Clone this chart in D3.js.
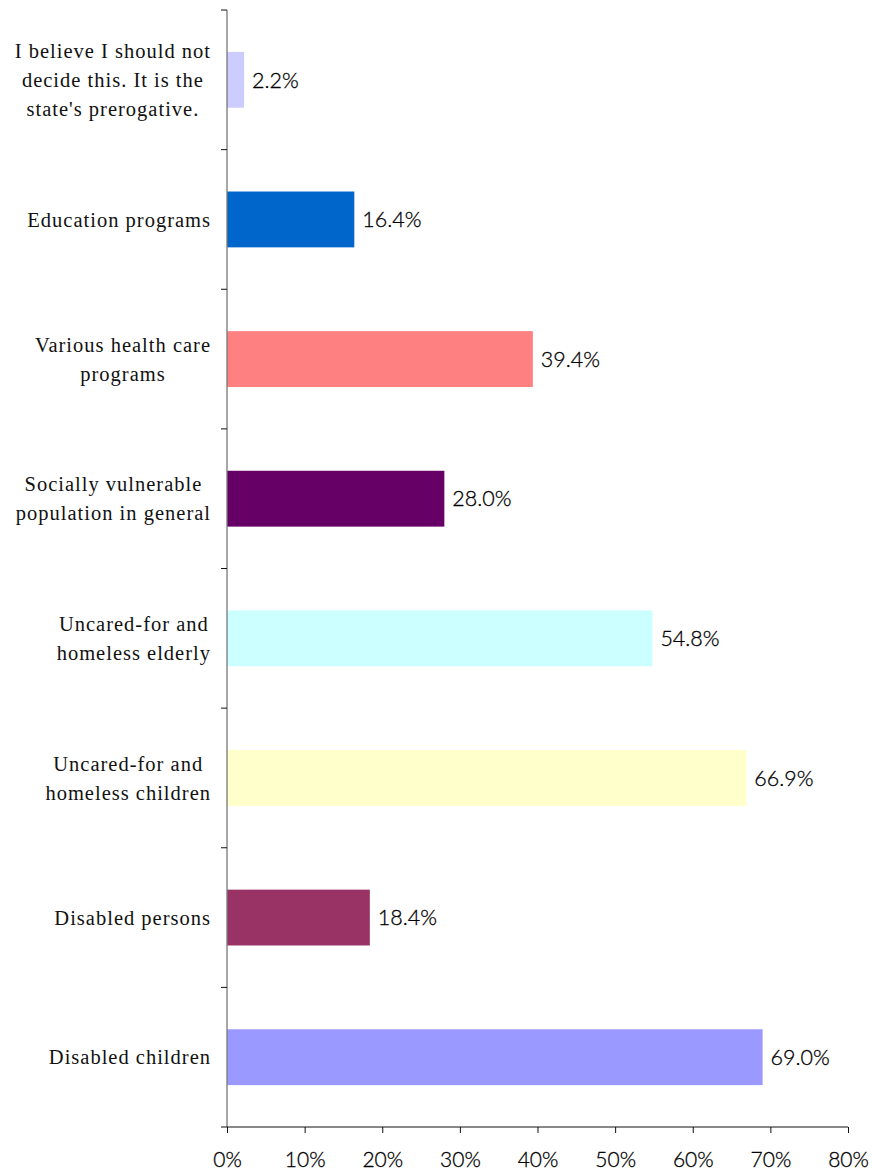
<!DOCTYPE html>
<html>
<head>
<meta charset="utf-8">
<script src="https://cdn.jsdelivr.net/npm/d3@7"></script>
<style>
  body { margin: 0; background: #fff; }
</style>
</head>
<body>
<svg id="chart" width="872" height="1171"></svg>
<script>
// data
const categories = [
    "I believe I should not|decide this. It is the|state's prerogative.",
    "Education programs",
    "Various health care|programs",
    "Socially vulnerable|population in general",
    "Uncared-for and|homeless elderly",
    "Uncared-for and|homeless children",
    "Disabled persons",
    "Disabled children"
];
const values = [2.2, 16.4, 39.4, 28.0, 54.8, 66.9, 18.4, 69.0];
const barColors = ["#ccccff", "#0066cc", "#ff8080", "#660066", "#ccffff", "#ffffcc", "#993366", "#9999ff"];
const xTicks = [0, 10, 20, 30, 40, 50, 60, 70, 80];

const margin = { top: 10, left: 227, right: 24, bottom: 44 };
const width = 872, height = 1171;

const svg = d3.select("#chart");

const x = d3.scaleLinear()
    .domain([0, 80])
    .range([margin.left, width - margin.right]);

const y = d3.scaleBand()
    .domain(categories)
    .range([margin.top, height - margin.bottom])
    .paddingInner(0.6)
    .paddingOuter(0.3);

// bars
svg.selectAll(".bar")
    .data(values)
    .enter()
    .append("rect")
    .attr("class", "bar")
    .attr("x", x(0))
    .attr("y", (d, i) => y(categories[i]))
    .attr("width", d => x(d) - x(0))
    .attr("height", y.bandwidth())
    .attr("fill", (d, i) => barColors[i]);

// value labels
svg.selectAll(".val")
    .data(values)
    .enter()
    .append("text")
    .attr("class", "val")
    .attr("x", d => x(d) + 8)
    .attr("y", (d, i) => y(categories[i]) + y.bandwidth() / 2)
    .attr("dy", "0.36em")
    .attr("fill", "#000")
    .attr("stroke", "#000")
    .attr("stroke-width", 0.3)
    .style("font-family", "'Lato', 'DejaVu Sans', sans-serif")
    .style("font-weight", 300)
    .style("font-size", "21.5px")
    .text(d => d.toFixed(1) + "%");

// y axis line + tick marks between categories
const yBottom = height - margin.bottom;
svg.append("line")
    .attr("x1", x(0)).attr("x2", x(0))
    .attr("y1", margin.top).attr("y2", yBottom)
    .attr("stroke", "#777").attr("stroke-width", 1.3);

const yTickPos = d3.range(categories.length).map(i => margin.top + i * (yBottom - margin.top) / categories.length);
svg.selectAll(".ytick")
    .data(yTickPos)
    .enter()
    .append("line")
    .attr("class", "ytick")
    .attr("x1", x(0) - 6).attr("x2", x(0))
    .attr("y1", d => d).attr("y2", d => d)
    .attr("stroke", "#111").attr("stroke-width", 1);

// category labels (right-aligned block, lines centered)
const lineH = 29;
categories.forEach((c, i) => {
    const lines = c.split("|");
    const cy = y(c) + y.bandwidth() / 2;
    const g = svg.append("g");
    const t = g.selectAll("text")
        .data(lines)
        .enter()
        .append("text")
        .attr("text-anchor", "middle")
        .attr("y", (d, j) => cy + (j - (lines.length - 1) / 2) * lineH)
        .attr("dy", "0.35em")
        .attr("fill", "#111")
        .style("font-family", "'Liberation Serif', 'Times New Roman', serif")
        .style("font-size", "20.5px")
        .style("letter-spacing", "1px")
        .text(d => d);
    const maxW = d3.max(t.nodes(), n => n.getComputedTextLength());
    t.attr("x", 211 - maxW / 2);
});

// x axis
const xAxis = d3.axisBottom(x)
    .tickValues(xTicks)
    .tickSize(6)
    .tickPadding(19)
    .tickFormat(d => d + "%");

const xg = svg.append("g")
    .attr("transform", `translate(0,${yBottom})`)
    .call(xAxis);

xg.select(".domain").remove();
xg.append("line")
    .attr("x1", x(0) - 6).attr("x2", x(80))
    .attr("y1", 0).attr("y2", 0)
    .attr("stroke", "#111");

xg.selectAll(".tick line").attr("stroke", "#111");
xg.selectAll("text")
    .attr("fill", "#000")
    .attr("stroke", "#000")
    .attr("stroke-width", 0.3)
    .style("font-family", "'Lato', 'DejaVu Sans', sans-serif")
    .style("font-weight", 300)
    .style("font-size", "21px");
</script>
</body>
</html>
